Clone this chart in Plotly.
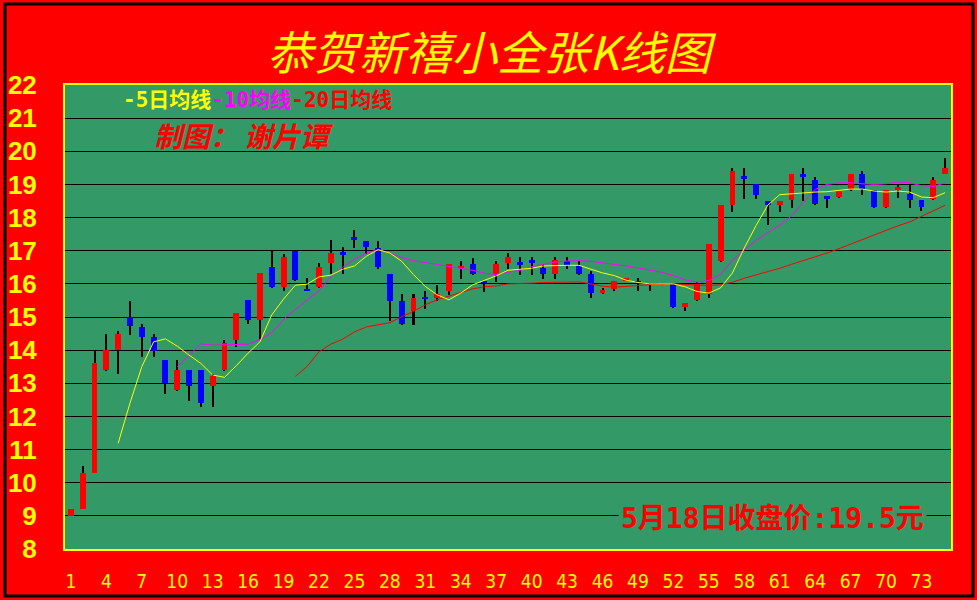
import plotly.graph_objects as go

# ---------------- data ----------------
days = list(range(1, 76))

open_ = [9.00, 9.22, 10.30, 13.40, 14.00, 14.99, 14.71, 14.41, 13.69, 12.79,
         13.39, 13.39, 12.92, 13.40, 14.31, 15.51, 14.91, 16.50, 15.90, 17.00,
         15.86, 15.90, 16.62, 16.96, 17.41, 17.30, 17.08, 16.31, 15.49, 15.19,
         15.61, 15.58, 15.79, 16.48, 16.61, 16.10, 16.31, 16.62, 16.65, 16.71,
         16.49, 16.31, 16.68, 16.53, 16.31, 15.71, 15.86, 16.10, 16.09, 16.03,
         15.99, 16.00, 15.29, 15.50, 15.69, 16.70, 18.39, 19.24, 19.00, 18.51,
         18.39, 18.52, 19.30, 19.12, 18.64, 18.61, 18.82, 19.30, 18.82, 18.31,
         18.82, 18.70, 18.52, 18.55, 19.30]
high = [9.22, 10.50, 14.00, 14.50, 14.59, 15.49, 14.80, 14.50, 13.69, 13.69,
        13.39, 13.39, 13.29, 14.30, 15.12, 15.51, 16.32, 17.00, 16.91, 17.00,
        16.19, 16.62, 17.32, 17.11, 17.62, 17.30, 17.30, 16.31, 15.70, 15.70,
        15.79, 15.97, 16.61, 16.70, 16.79, 16.10, 16.70, 16.92, 16.80, 16.80,
        16.59, 16.80, 16.80, 16.68, 16.40, 15.89, 16.10, 16.19, 16.18, 16.03,
        16.02, 16.00, 15.41, 16.05, 17.21, 18.39, 19.51, 19.51, 19.00, 18.51,
        18.51, 19.30, 19.51, 19.21, 18.64, 18.79, 19.30, 19.42, 18.82, 18.82,
        19.00, 19.00, 18.52, 19.21, 19.81]
low = [9.00, 9.20, 10.28, 13.37, 13.27, 14.47, 13.79, 13.79, 12.67, 12.77,
       12.47, 12.29, 12.29, 13.38, 14.10, 14.78, 14.30, 15.87, 15.78, 16.08,
       15.79, 15.87, 16.29, 16.29, 17.08, 16.89, 16.46, 14.87, 14.77, 14.77,
       15.25, 15.47, 15.67, 16.16, 16.28, 15.76, 16.07, 16.46, 16.28, 16.28,
       16.16, 16.16, 16.46, 16.28, 15.56, 15.68, 15.77, 16.10, 15.77, 15.77,
       15.98, 15.26, 15.17, 15.47, 15.56, 16.67, 18.18, 18.57, 18.57, 17.79,
       18.18, 18.28, 18.49, 18.37, 18.28, 18.58, 18.79, 18.67, 18.28, 18.28,
       18.58, 18.28, 18.19, 18.52, 19.30]
close = [9.22, 10.30, 13.60, 14.00, 14.50, 14.72, 14.41, 13.97, 13.00, 13.39,
         12.92, 12.41, 13.21, 14.21, 15.12, 14.91, 16.32, 15.90, 16.80, 16.11,
         15.79, 16.50, 16.92, 16.90, 17.33, 17.10, 16.50, 15.49, 14.80, 15.58,
         15.55, 15.70, 16.61, 16.52, 16.31, 16.03, 16.61, 16.80, 16.59, 16.62,
         16.31, 16.71, 16.53, 16.31, 15.71, 15.80, 16.10, 16.19, 16.02, 15.99,
         16.01, 15.29, 15.41, 16.00, 17.21, 18.39, 19.42, 19.18, 18.69, 18.39,
         18.51, 19.30, 19.21, 18.40, 18.58, 18.79, 19.30, 18.85, 18.31, 18.82,
         18.91, 18.52, 18.31, 19.12, 19.51]

ma5 = [None] * 4 + [
    11.19, 12.40, 13.50, 14.25, 14.34, 14.12, 13.85, 13.60, 13.25, 13.18,
    13.53, 13.91, 14.25, 15.06, 15.54, 15.96, 15.99, 16.21, 16.26, 16.44,
    16.54, 16.83, 17.03, 16.93, 16.68, 16.28, 15.92, 15.67, 15.52, 15.72,
    15.97, 16.11, 16.24, 16.41, 16.43, 16.47, 16.54, 16.56, 16.56, 16.56,
    16.45, 16.33, 16.25, 16.11, 16.04, 16.00, 16.00, 16.00, 15.91, 15.77,
    15.72, 15.88, 16.33, 17.08, 17.76, 18.38, 18.69, 18.72, 18.75, 18.77,
    18.78, 18.81, 18.86, 18.86, 18.80, 18.77, 18.80, 18.77, 18.62, 18.60,
    18.75]
ma10 = [None] * 9 + [
    13.50, 13.84, 14.19, 14.15, 14.16, 14.17, 14.18, 14.32, 14.52, 14.93,
    15.24, 15.52, 15.79, 16.22, 16.50, 16.75, 16.93, 17.03, 16.93, 16.80,
    16.70, 16.64, 16.60, 16.54, 16.48, 16.41, 16.32, 16.28, 16.35, 16.41,
    16.52, 16.60, 16.66, 16.69, 16.70, 16.68, 16.64, 16.59, 16.54, 16.48,
    16.42, 16.35, 16.25, 16.12, 16.05, 16.10, 16.30, 16.72, 17.02, 17.31,
    17.55, 17.77, 18.05, 18.47, 18.85, 19.00, 19.05, 19.05, 19.02, 19.00,
    19.02, 19.07, 19.05, 18.96, 18.94, 19.05]
ma20 = [None] * 19 + [
    13.21, 13.51, 13.95, 14.18, 14.33, 14.55, 14.70, 14.77, 14.83, 15.01,
    15.17, 15.37, 15.52, 15.63, 15.75, 15.85, 15.91, 15.94, 16.00, 16.00,
    16.02, 16.04, 16.05, 16.06, 16.06, 16.00, 15.93, 15.90, 15.93, 15.96,
    15.97, 16.00, 16.00, 15.98, 15.95, 15.95, 15.97, 16.05, 16.17, 16.27,
    16.36, 16.47, 16.59, 16.70, 16.81, 16.93, 17.06, 17.20, 17.34, 17.49,
    17.63, 17.75, 17.87, 18.03, 18.20, 18.37]

x_ticks = list(range(1, 74, 3))
y_ticks = list(range(8, 23))

title_text = "恭贺新禧小全张K线图"
legend_parts = [("-5日均线", "#FFFF00"), ("-10均线", "#FF00FF"), ("-20日均线", "#FF0000")]
author_text = "制图： 谢片谭"
close_text = "5月18日收盘价:19.5元"

# ---------------- styling ----------------
GREEN = "#339966"
RED = "#FF0000"
BLUE = "#0000FF"
YELLOW = "#FFFF00"

fig = go.Figure()

# wicks
fig.add_trace(go.Bar(
    x=days, base=low, y=[h - l for h, l in zip(high, low)],
    width=0.17, marker=dict(color="black", line=dict(width=0)),
    hoverinfo="skip", showlegend=False))

up_x = [d for d, o, c in zip(days, open_, close) if c >= o]
up_b = [o for o, c in zip(open_, close) if c >= o]
up_h = [c - o for o, c in zip(open_, close) if c >= o]
dn_x = [d for d, o, c in zip(days, open_, close) if c < o]
dn_b = [c for o, c in zip(open_, close) if c < o]
dn_h = [o - c for o, c in zip(open_, close) if c < o]

fig.add_trace(go.Bar(x=up_x, base=up_b, y=up_h, width=0.5,
                     marker=dict(color=RED, line=dict(width=0)), showlegend=False))
fig.add_trace(go.Bar(x=dn_x, base=dn_b, y=dn_h, width=0.5,
                     marker=dict(color=BLUE, line=dict(width=0)), showlegend=False))

fig.add_trace(go.Scatter(x=days, y=ma20, mode="lines",
                         line=dict(color=RED, width=1), showlegend=False))
fig.add_trace(go.Scatter(x=days, y=ma10, mode="lines",
                         line=dict(color="#FF00FF", width=1), showlegend=False))
fig.add_trace(go.Scatter(x=days, y=ma5, mode="lines",
                         line=dict(color=YELLOW, width=1), showlegend=False))

legend_html = "".join(f'<span style="color:{c}">{t}</span>' for t, c in legend_parts)

fig.update_layout(
    width=977, height=600,
    margin=dict(l=65, r=26, t=85, b=51),
    paper_bgcolor=RED, plot_bgcolor=GREEN,
    barmode="overlay", bargap=0,
    showlegend=False,
    xaxis=dict(range=[0.5, 75.5], tickmode="array", tickvals=x_ticks,
               tickfont=dict(color=YELLOW, size=19,
                             family="Liberation Sans Narrow, DejaVu Sans Condensed, Roboto Condensed, Liberation Sans"),
               showgrid=False, zeroline=False, ticks="", ticklabelstandoff=14,
               automargin=False,
               showline=True, linecolor=YELLOW, linewidth=2, mirror=True),
    yaxis=dict(range=[8, 22], tickmode="array", tickvals=y_ticks,
               tickfont=dict(color=YELLOW, size=26, family="Liberation Sans", weight="bold"),
               showgrid=True, gridcolor="black", gridwidth=1, zeroline=False,
               ticks="", ticklabelstandoff=21, automargin=False,
               showline=True, linecolor=YELLOW, linewidth=2, mirror=True),
    shapes=[dict(type="rect", xref="paper", yref="paper",
                 x0=-0.0677, x1=1.0248, y0=-0.1013, y1=1.1746,
                 line=dict(color="black", width=3), layer="below")],
    annotations=[
        dict(text=title_text, xref="paper", yref="paper", x=0.482, y=1.075,
             xanchor="center", yanchor="middle", showarrow=False,
             font=dict(family="Noto Sans CJK SC", size=46, color=YELLOW, style="italic")),
        dict(text=legend_html, xref="paper", yref="paper", x=0.063, y=0.968,
             xanchor="left", yanchor="middle", showarrow=False,
             font=dict(family="DejaVu Sans Mono, Noto Sans CJK SC", size=21, weight="bold")),
        dict(text=author_text, xref="paper", yref="paper", x=0.098, y=0.892,
             xanchor="left", yanchor="middle", showarrow=False,
             font=dict(family="Noto Sans CJK SC", size=28, color=RED,
                       weight="bold", style="italic")),
        dict(text=close_text, xref="paper", yref="paper", x=0.798, y=0.0668,
             xanchor="center", yanchor="middle", showarrow=False,
             bgcolor=GREEN, borderpad=2,
             font=dict(family="DejaVu Sans Mono, Noto Sans CJK SC", size=28,
                       color=RED, weight="bold")),
    ],
)

fig.write_html("out.html", config={"displayModeBar": False},
               post_script="document.body.style.margin='0';")
